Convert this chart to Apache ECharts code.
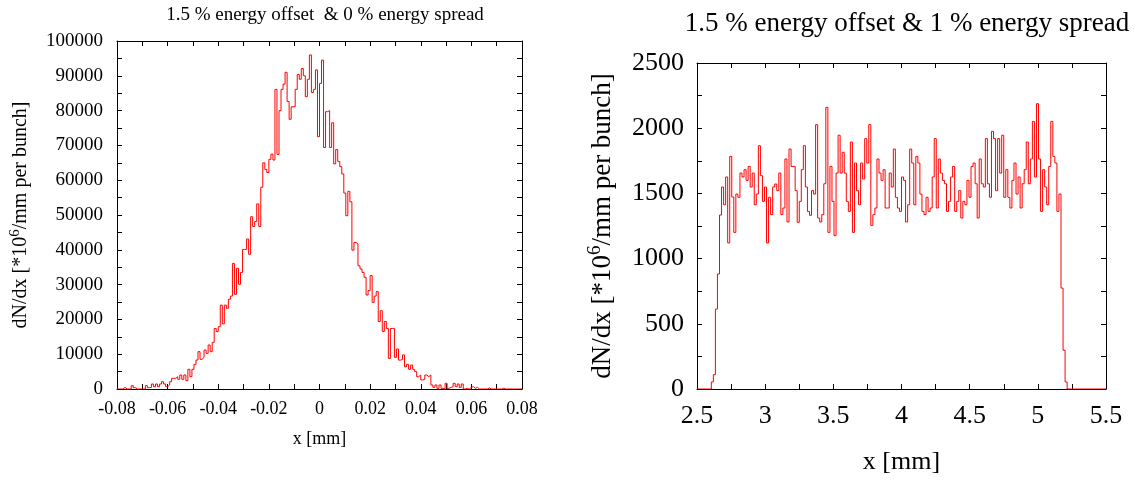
<!DOCTYPE html>
<html>
<head>
<meta charset="utf-8">
<script src="https://cdn.jsdelivr.net/npm/echarts@6/dist/echarts.min.js"></script>
<style>
html,body{margin:0;padding:0;background:#fff;}
#chart{width:1135px;height:481px;}
</style>
</head>
<body>
<div id="chart"></div>
<script>
// ---- data ----
const leftTitle = '1.5 % energy offset  & 0 % energy spread';
const rightTitle = '1.5 % energy offset & 1 % energy spread';
const xName = 'x [mm]';
const yName = 'dN/dx [*10{sup|6}/mm per bunch]';

// left histogram: 200 bins from -0.08, width 0.0008
const leftBinStart = -0.08;
const leftBinWidth = 0.0008;
const leftCounts = [
  0,0,0,480,0,0,0,960,380,0,
  0,0,0,0,960,380,480,1440,670,1440,
  670,1440,2100,1440,670,1150,2100,3070,3070,3540,
  2780,4020,2780,4020,2400,5650,3540,5650,7090,8330,
  10730,8530,9100,11200,10250,12650,10730,13400,17400,16500,
  17900,24100,18700,24100,23200,25800,26700,36100,27200,34700,
  30100,33500,40100,40100,43100,38700,49500,46700,48100,53200,
  46700,58000,65000,63100,62200,66000,67500,65800,86100,67400,
  80000,86100,87600,91000,82600,77500,81100,81100,86100,90400,
  89000,92100,90000,84000,89000,96000,85200,86100,91700,72500,
  87800,94500,69400,79700,80000,69400,76500,64700,68800,65400,
  63900,61800,56300,49800,56800,53800,39900,42100,41700,35400,
  34500,33500,32100,27000,28300,32600,24900,26700,28000,19400,
  22500,16500,19400,17400,8800,17400,17400,9100,11500,8300,
  8500,9800,6400,7100,5650,6900,5650,5000,3540,4020,
  2590,2780,4020,3540,4020,1150,480,1150,190,1150,
  190,0,1630,190,480,670,1630,670,1440,480,
  1440,0,190,0,480,670,190,480,0,0,
  0,0,0,300,0,0,0,0,0,0,
  200,0,0,0,0,0,0,0,0,0
];

// right histogram: 200 bins from 2.5, width 0.015
const rightBinStart = 2.5;
const rightBinWidth = 0.015;
const rightCounts = [
  0,0,0,0,0,0,0,54,110,613,
  882,1334,1549,1413,1626,1120,1784,1472,1201,1495,
  1470,1656,1626,1682,1600,1707,1549,1656,1413,1495,
  1866,1636,1439,1549,1120,1470,1337,1549,1572,1521,
  1656,1337,1388,1764,1281,1840,1707,1707,1521,1278,
  1439,1682,1866,1549,1362,1332,1521,1495,2027,1311,
  1281,1337,1574,2160,1201,1707,1439,1176,1656,1946,
  1656,1815,1656,1439,1362,1894,1201,1733,1521,1413,
  1733,1610,1920,1733,2027,1255,1337,1388,1764,1656,
  1600,1682,1388,1388,1656,1549,1840,1470,1388,1362,
  1626,1600,1281,1413,1840,1733,1413,1784,1733,1495,
  1362,1337,1470,1362,1388,1626,1920,1388,1764,1656,
  1600,1574,1362,1439,1626,1707,1362,1439,1521,1311,
  1439,1413,1600,1470,1707,1733,1574,1311,1764,1574,
  1549,1920,1574,1470,1976,1920,1521,1920,1656,1946,
  1470,1682,1470,1388,1600,1733,1495,1626,1388,1574,
  1682,1894,1574,1764,2052,1626,2188,1764,1362,1682,
  1549,1413,1707,2052,1784,1733,1362,1495,774,297,
  54,0,0,0,0,0,0,0,0,0,
  0,0,0,0,0,0,0,0,0,0
];

// axis ranges / ticks
const leftX = {min: -0.08, max: 0.08, step: 0.01, labelEvery: 2};
const leftY = {min: 0, max: 100000, step: 5000, labelEvery: 2};
const rightX = {min: 2.5, max: 5.5, step: 0.25, labelEvery: 2};
const rightY = {min: 0, max: 2500, step: 250, labelEvery: 2};

// ---- build ----
function histPoints(start, width, counts) {
  const pts = counts.map((c, i) => [start + i * width, c]);
  pts.push([start + counts.length * width, counts[counts.length - 1]]);
  return pts;
}
function tickFormatter(ax) {
  return function (v) {
    const k = Math.round((v - ax.min) / ax.step);
    if (k % ax.labelEvery !== 0) return '';
    const val = ax.min + k * ax.step;
    if (Math.abs(val) < 1e-12) return '0';
    return String(+val.toFixed(6));
  };
}

const FONT = 'Liberation Serif';
const black = '#000';

function axisBase(gridIndex, ax, fontSize, show, formatter, margin) {
  return {
    gridIndex: gridIndex,
    type: 'value',
    min: ax.min, max: ax.max, interval: ax.step,
    axisLine: {show: true, onZero: false, lineStyle: {color: black, width: 1}},
    axisTick: {show: true, inside: true, length: 5, lineStyle: {color: black, width: 1}},
    splitLine: {show: false},
    axisLabel: {show: show, formatter: formatter, color: black, fontFamily: FONT,
                fontSize: fontSize, margin: margin, hideOverlap: false, showMinLabel: true, showMaxLabel: true}
  };
}

const chart = echarts.init(document.getElementById('chart'), null, {renderer: 'canvas'});

const leftFmtX = function (v) {
  const k = Math.round(v / 0.01);
  if (k % 2 !== 0) return '';
  if (k === 0) return '0';
  return (k / 100).toFixed(2);
};

const xAxes = [
  Object.assign(axisBase(0, leftX, 18, true, leftFmtX, 11), {
    position: 'bottom', name: xName, nameLocation: 'middle', nameGap: 41,
    nameTextStyle: {fontFamily: FONT, fontSize: 18, color: black}
  }),
  Object.assign(axisBase(0, leftX, 18, false, null, 8), {position: 'top'}),
  Object.assign(axisBase(1, rightX, 26, true, tickFormatter(rightX), 14), {
    position: 'bottom', name: xName, nameLocation: 'middle', nameGap: 60,
    nameTextStyle: {fontFamily: FONT, fontSize: 26, color: black}
  }),
  Object.assign(axisBase(1, rightX, 26, false, null, 8), {position: 'top'})
];
const yAxes = [
  Object.assign(axisBase(0, leftY, 19, true, tickFormatter(leftY), 14), {
    position: 'left', name: yName, nameLocation: 'middle', nameGap: 84, nameRotate: 90,
    nameTextStyle: {fontFamily: FONT, fontSize: 20, color: black,
      rich: {sup: {fontFamily: FONT, fontSize: 15, color: black, padding: [0, 0, 10, 0]}}}
  }),
  Object.assign(axisBase(0, leftY, 18, false, null, 8), {position: 'right'}),
  Object.assign(axisBase(1, rightY, 26, true, tickFormatter(rightY), 13), {
    position: 'left', name: yName, nameLocation: 'middle', nameGap: 78, nameRotate: 90,
    nameTextStyle: {fontFamily: FONT, fontSize: 27, color: black,
      rich: {sup: {fontFamily: FONT, fontSize: 19, color: black, padding: [0, 0, 14, 0]}}}
  }),
  Object.assign(axisBase(1, rightY, 26, false, null, 8), {position: 'right'})
];

chart.setOption({
  animation: false,
  backgroundColor: '#fff',
  title: [
    {text: leftTitle, left: 320, top: 1, textAlign: 'center',
     textStyle: {fontFamily: FONT, fontSize: 19, fontWeight: 'normal', color: black}},
    {text: rightTitle, left: 902, top: 5, textAlign: 'center',
     textStyle: {fontFamily: FONT, fontSize: 27, fontWeight: 'normal', color: black}}
  ],
  grid: [
    {left: 117, top: 41, width: 405, height: 348, containLabel: false},
    {left: 697, top: 63, width: 409, height: 326, containLabel: false}
  ],
  xAxis: xAxes,
  yAxis: yAxes,
  series: [
    {type: 'line', xAxisIndex: 0, yAxisIndex: 0, step: 'end', showSymbol: false, symbol: 'none',
     data: histPoints(leftBinStart, leftBinWidth, leftCounts),
     lineStyle: {color: '#ff0000', width: 1}, itemStyle: {color: '#ff0000'}},
    {type: 'line', xAxisIndex: 2, yAxisIndex: 2, step: 'end', showSymbol: false, symbol: 'none',
     data: histPoints(rightBinStart, rightBinWidth, rightCounts),
     lineStyle: {color: '#ff0000', width: 1}, itemStyle: {color: '#ff0000'}}
  ]
});
</script>
</body>
</html>
